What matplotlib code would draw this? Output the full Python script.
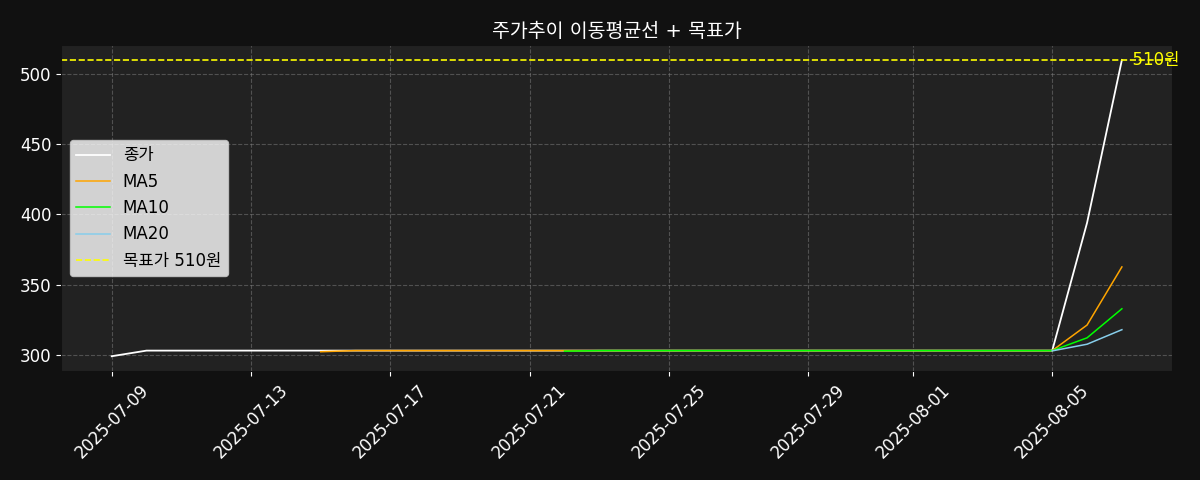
import pandas as pd
import matplotlib.pyplot as plt

plt.rcParams['font.family'] = ['DejaVu Sans', 'Noto Sans CJK KR']

# business days 2025-07-09 .. 2025-08-07
dates = pd.bdate_range('2025-07-09', '2025-08-07')
close = [299] + [303] * 19 + [394, 510]
target = 510

s = pd.Series(close, index=dates)
ma5 = s.rolling(5).mean()
ma10 = s.rolling(10).mean()
ma20 = s.rolling(20).mean()

fig, ax = plt.subplots(figsize=(12, 4.8), dpi=100)
fig.patch.set_facecolor('#111111')
ax.set_facecolor('#222222')

ax.plot(dates, s, color='white', linewidth=1.3, label='종가')
ax.plot(dates, ma5, color='orange', linewidth=1.1, label='MA5')
ax.plot(dates, ma10, color='lime', linewidth=1.1, label='MA10')
ax.plot(dates, ma20, color='skyblue', linewidth=1.1, label='MA20')
ax.axhline(target, color='yellow', linestyle='--', linewidth=1.2, label=f'목표가 {target}원')
ax.text(dates[-1], target, f'  {target}원', color='yellow', fontsize=12, va='center')

ax.set_title('주가추이 이동평균선 + 목표가', color='white', fontsize=14)
ax.grid(True, color='gray', linestyle='--', alpha=0.5)
ax.tick_params(colors='white', labelsize=12)
plt.setp(ax.get_xticklabels(), rotation=45)
for sp in ax.spines.values():
    sp.set_color('#111111')
ax.legend(loc='center left', fontsize=12)

fig.subplots_adjust(left=0.051, right=0.977, top=0.906, bottom=0.227)
plt.savefig('out.png', facecolor=fig.get_facecolor())
